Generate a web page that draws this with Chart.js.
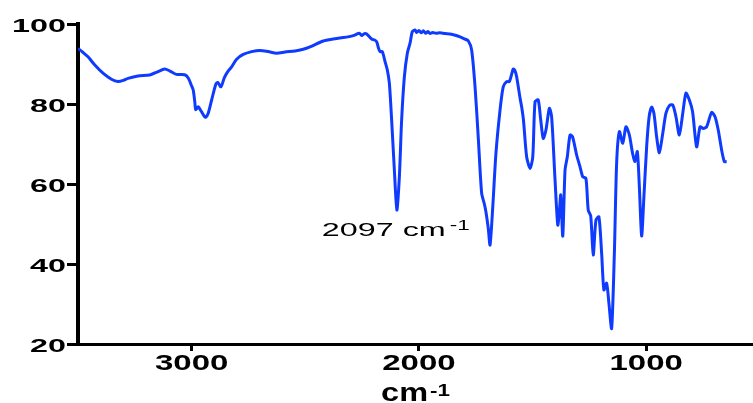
<!DOCTYPE html>
<html>
<head>
<meta charset="utf-8">
<script src="https://cdn.jsdelivr.net/npm/chart.js@4.4.0/dist/chart.umd.min.js"></script>
<style>
  html, body { margin: 0; padding: 0; background: #fff; overflow: hidden; }
  #wrap { width: 753px; height: 403px; }
</style>
</head>
<body>
<div id="wrap"><canvas id="c" width="753" height="403"></canvas></div>
<script>
// IR spectrum: wavenumber (cm-1) and transmittance (%)
const wavenumbers = [
  3500, 3480, 3456, 3427, 3390, 3353, 3324, 3300, 3280, 3236,
  3185, 3148, 3119, 3097, 3067, 3031, 3015, 3000, 2993, 2986,
  2982, 2971, 2959, 2945, 2938, 2927, 2912, 2894, 2885, 2871,
  2856, 2841, 2824, 2802, 2773, 2736, 2699, 2663, 2626, 2589,
  2545, 2509, 2479, 2421, 2377, 2333, 2289, 2262, 2252, 2240,
  2230, 2208, 2195, 2186, 2178, 2171, 2161, 2149, 2139, 2130,
  2120, 2108, 2097, 2086, 2076, 2064, 2051, 2039, 2029, 2017,
  2010, 2000, 1990, 1981, 1970, 1960, 1951, 1940, 1925, 1907,
  1885, 1863, 1840, 1819, 1800, 1783, 1768, 1753, 1739, 1724,
  1712, 1705, 1695, 1687, 1675, 1661, 1643, 1629, 1614, 1602,
  1585, 1578, 1570, 1555, 1548, 1540, 1526, 1511, 1499, 1489,
  1475, 1464, 1453, 1441, 1426, 1416, 1401, 1389, 1382, 1376,
  1367, 1357, 1347, 1335, 1324, 1306, 1291, 1279, 1265, 1255,
  1244, 1233, 1221, 1208, 1196, 1186, 1174, 1164, 1152, 1140,
  1130, 1118, 1103, 1089, 1074, 1060, 1049, 1039, 1030, 1020,
  1010, 998, 987, 976, 966, 954, 942, 927, 913, 898,
  883, 869, 854, 839, 825, 810, 796, 778, 763, 749,
  734, 712, 697, 683, 668, 656, 646
];
const transmittance = [
  93.9, 93.0, 91.8, 89.8, 87.7, 86.2, 85.6, 85.9, 86.4, 87.0,
  87.25, 88.1, 88.75, 88.3, 87.4, 87.3, 86.5, 84.5, 83.5, 80.5,
  78.6, 79.3, 78.3, 77.0, 76.7, 77.7, 81.0, 84.9, 85.4, 84.3,
  86.6, 88.1, 89.3, 91.2, 92.4, 93.1, 93.4, 93.1, 92.7, 93.0,
  93.25, 93.7, 94.3, 95.75, 96.25, 96.6, 97.1, 97.7, 97.1, 97.6,
  97.5, 96.25, 96.0, 95.6, 94.0, 93.1, 93.1, 90.6, 88.5, 85.2,
  76.0, 63.5, 53.5, 61.8, 76.0, 86.8, 92.7, 95.2, 98.1, 98.5,
  97.9, 98.4, 97.8, 98.3, 97.7, 98.1, 97.6, 97.9, 97.7, 97.8,
  97.6, 97.5, 97.2, 96.8, 96.3, 95.8, 93.5, 84.3, 71.8, 57.7,
  55.0, 53.0, 49.0, 44.75, 54.3, 67.7, 78.5, 84.3, 85.6, 85.6,
  88.75, 88.4, 86.8, 81.5, 79.3, 76.0, 66.8, 63.9, 66.8, 80.6,
  81.0, 76.0, 71.4, 73.5, 78.9, 76.8, 61.0, 49.75, 53.0, 57.25,
  47.0, 63.5, 66.8, 72.25, 71.8, 67.25, 64.3, 61.8, 61.4, 53.5,
  52.0, 42.25, 51.0, 51.8, 42.7, 33.5, 35.2, 30.2, 23.9, 42.7,
  65.2, 73.1, 70.2, 74.3, 72.25, 67.7, 65.6, 68.1, 59.3, 47.0,
  56.8, 69.3, 76.8, 79.2, 77.7, 71.8, 67.8, 72.7, 77.7, 79.6,
  79.75, 76.8, 72.25, 77.7, 82.7, 81.0, 78.1, 69.3, 74.3, 73.9,
  74.3, 77.9, 76.8, 73.5, 68.5, 65.6, 65.6
];
const xTickValues = [3000, 2000, 1000];
const yTickValues = [20, 40, 60, 80, 100];
const peakWavenumber = 2097;
const peakTransmittance = 53.5;
const axisTitle = 'cm';
const unitExponent = '-1';

const FONT = '"Liberation Sans", Arial, sans-serif';

// Draws text widened horizontally by factor sx; returns drawn width
function wideText(ctx, text, x, y, font, sx, align) {
  ctx.save();
  ctx.font = font;
  ctx.textAlign = align;
  ctx.textBaseline = 'alphabetic';
  ctx.translate(x, y);
  ctx.scale(sx, 1);
  ctx.fillText(text, 0, 0);
  const w = ctx.measureText(text).width * sx;
  ctx.restore();
  return w;
}

const textPlugin = {
  id: 'spectrumText',
  afterDraw(chart) {
    const { ctx, scales: { x, y }, chartArea } = chart;
    ctx.save();
    ctx.fillStyle = '#000';

    // y tick labels
    yTickValues.forEach(v => {
      wideText(ctx, String(v), 66, y.getPixelForValue(v) + 7.5, 'bold 19px ' + FONT, 1.7, 'right');
    });
    // x tick labels
    xTickValues.forEach(v => {
      wideText(ctx, String(v), x.getPixelForValue(v), 370, 'bold 22px ' + FONT, 1.5, 'center');
    });

    // axis title: cm^-1
    const cx = (chartArea.left + chartArea.right) / 2;
    ctx.font = 'bold 26px ' + FONT;
    const wMain = ctx.measureText(axisTitle).width * 1.25;
    ctx.font = 'bold 16px ' + FONT;
    const wSup = ctx.measureText(unitExponent).width * 1.4;
    const startX = cx - (wMain + 2 + wSup) / 2;
    wideText(ctx, axisTitle, startX, 401, 'bold 26px ' + FONT, 1.25, 'left');
    wideText(ctx, unitExponent, startX + wMain + 2, 396, 'bold 16px ' + FONT, 1.4, 'left');

    // peak annotation
    const px = x.getPixelForValue(peakWavenumber);
    const py = y.getPixelForValue(peakTransmittance);
    const tx = px - 75;
    const ty = py + 26;
    const w = wideText(ctx, peakWavenumber + ' cm', tx, ty, '19px ' + FONT, 1.7, 'left');
    wideText(ctx, unitExponent, tx + w + 4, ty - 6, '15px ' + FONT, 1.5, 'left');

    ctx.restore();
  }
};

const points = wavenumbers.map((w, i) => ({ x: w, y: transmittance[i] }));

new Chart(document.getElementById('c'), {
  type: 'line',
  data: {
    datasets: [{
      data: points,
      borderColor: '#0f3bff',
      borderWidth: 3,
      pointRadius: 0,
      fill: false,
      tension: 0.25
    }]
  },
  options: {
    responsive: false,
    devicePixelRatio: 1,
    animation: false,
    events: [],
    layout: { padding: { top: 24, right: 0, left: 0, bottom: 0 } },
    plugins: { legend: { display: false }, tooltip: { enabled: false } },
    scales: {
      x: {
        type: 'linear',
        reverse: true,
        min: 530,
        max: 3500,
        afterBuildTicks: s => { s.ticks = xTickValues.map(v => ({ value: v })); },
        afterFit: s => { s.height = 59; },
        ticks: { display: false },
        grid: { display: true, drawOnChartArea: false, drawTicks: true, tickLength: 7, lineWidth: 3, color: '#000' },
        border: { display: true, width: 3, color: '#000' }
      },
      y: {
        min: 20,
        max: 100,
        afterBuildTicks: s => { s.ticks = yTickValues.map(v => ({ value: v })); },
        afterFit: s => { s.width = 78; },
        ticks: { display: false },
        grid: { display: true, drawOnChartArea: false, drawTicks: true, tickLength: 11, lineWidth: 3, color: '#000' },
        border: { display: true, width: 4, color: '#000' }
      }
    }
  },
  plugins: [textPlugin]
});
</script>
</body>
</html>
